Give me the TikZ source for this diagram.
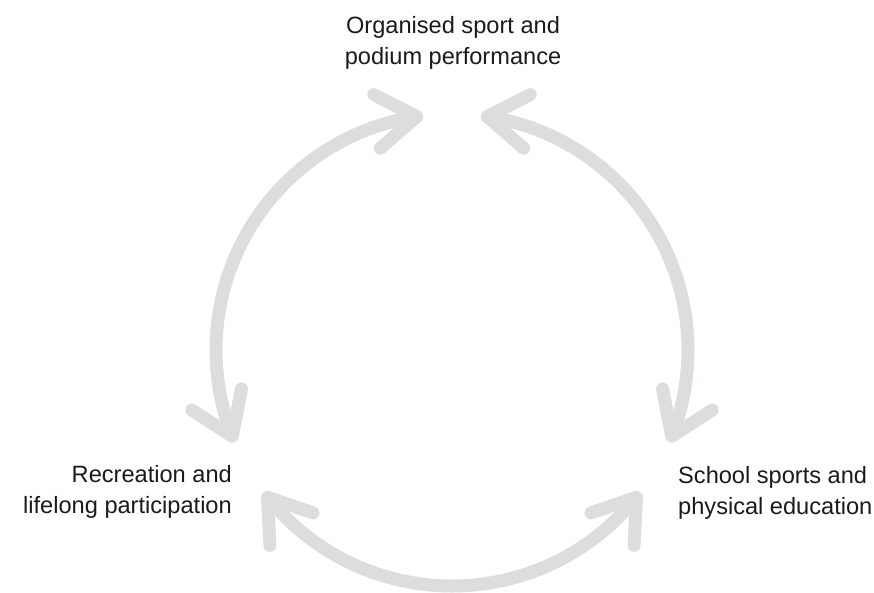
\documentclass[tikz,border=0pt]{standalone}
\usepackage{fontspec}
\setmainfont{Liberation Sans}
\usetikzlibrary{arrows.meta,bending,calc}
\definecolor{arcgray}{HTML}{DCDDDF}
\definecolor{ink}{HTML}{1A1A1A}
\begin{document}
\begin{tikzpicture}[x=1pt,y=1pt,
  tipb/.tip={Straight Barb[length=40pt,width=54pt,line width=13pt,round]},
  cyc/.style={draw=arcgray, line width=13pt, line cap=round, {tipb}-{tipb}},
  lbl/.style={text=ink, font=\fontsize{23.6}{31}\selectfont, inner sep=0pt}]
\useasboundingbox (0,0) rectangle (874,592);
\coordinate (C) at (452,242);
\node[lbl, align=center, anchor=north] (top) at (453,576) {Organised sport and\\podium performance};
\node[lbl, align=right, anchor=north east] (left) at (232,127) {Recreation and\\lifelong participation};
\node[lbl, align=left, anchor=north west] (right) at (678,126) {School sports and\\physical education};
\coordinate (a1) at ($(C)+(97:236)$);
\coordinate (b1) at ($(C)+(83:236)$);
\coordinate (c1) at ($(C)+(217:236)$);
\draw[cyc] (a1) arc[start angle=97, end angle=203, radius=236];
\draw[cyc] (b1) arc[start angle=83, end angle=-23, radius=236];
\draw[cyc] (c1) arc[start angle=217, end angle=323, radius=236];
\end{tikzpicture}
\end{document}
